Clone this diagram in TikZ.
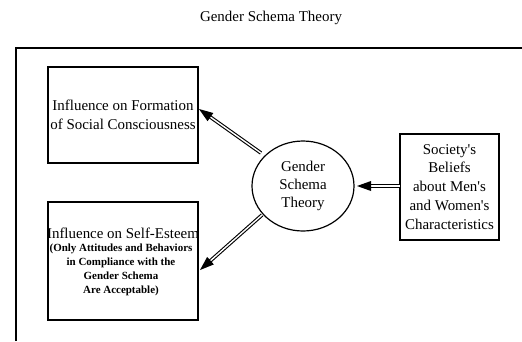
\documentclass[tikz,border=0pt]{standalone}
\usepackage{fontspec}
\setmainfont{Liberation Serif}
\usetikzlibrary{calc,shapes.geometric}
\begin{document}
\begin{tikzpicture}[x=1bp,y=-1bp,
  bigtext/.style={font=\fontsize{15}{19}\selectfont, align=center, inner sep=0pt},
  smalltext/.style={font=\fontsize{11}{14}\selectfont\bfseries, align=center, inner sep=0pt},
  box/.style={draw, line width=1.3bp, inner sep=0pt},
  dbl/.style={draw=black, double=white, double distance=1.4bp, line width=1.1bp, shorten >=10bp},
  tiphead/.style={fill=black}]
\useasboundingbox (0,0) rectangle (522,341);
\node[bigtext] (title) at (271,18) {Gender Schema Theory};
\draw[line width=1.5bp] (16,341) -- (16,48) -- (522,48);
% boxes
\node[box, minimum width=150bp, minimum height=96bp, bigtext] (b1) at (123,115)
  {Influence on Formation\\of Social Consciousness};
\node[box, minimum width=150bp, minimum height=118bp] (b2) at (123,261) {};
\node[bigtext] (b2head) at (123,233) {Influence on Self-Esteem};
\node[smalltext] (b2body) at (121,270)
  {(Only Attitudes and Behaviors\\in Compliance with the\\Gender Schema\\Are Acceptable)};
\node[box, minimum width=99bp, minimum height=106bp, bigtext] (soc) at (449.5,187)
  {Society\textquotesingle s\\Beliefs\\about Men\textquotesingle s\\and Women\textquotesingle s\\Characteristics};
\node[draw, ellipse, line width=1.2bp, minimum width=102bp, minimum height=90bp,
  bigtext, font=\fontsize{15}{18}\selectfont] (g) at (303,186) {Gender\\Schema\\Theory};
% connector ends
\coordinate (s1) at (261,153);
\coordinate (t1) at (199,109);
\coordinate (s2) at (262,215);
\coordinate (t2) at (200,270);
\coordinate (s3) at (400,186);
\coordinate (t3) at (357,186);
\draw[dbl] (s1) -- (t1);
\fill[tiphead] (t1) -- ($(t1)!14.9bp!19.7:(s1)$) -- ($(t1)!14.9bp!-19.7:(s1)$) -- cycle;
\draw[dbl] (s2) -- (t2);
\fill[tiphead] (t2) -- ($(t2)!14.9bp!19.7:(s2)$) -- ($(t2)!14.9bp!-19.7:(s2)$) -- cycle;
\draw[dbl] (s3) -- (t3);
\fill[tiphead] (t3) -- ($(t3)!14.9bp!19.7:(s3)$) -- ($(t3)!14.9bp!-19.7:(s3)$) -- cycle;
\end{tikzpicture}
\end{document}
